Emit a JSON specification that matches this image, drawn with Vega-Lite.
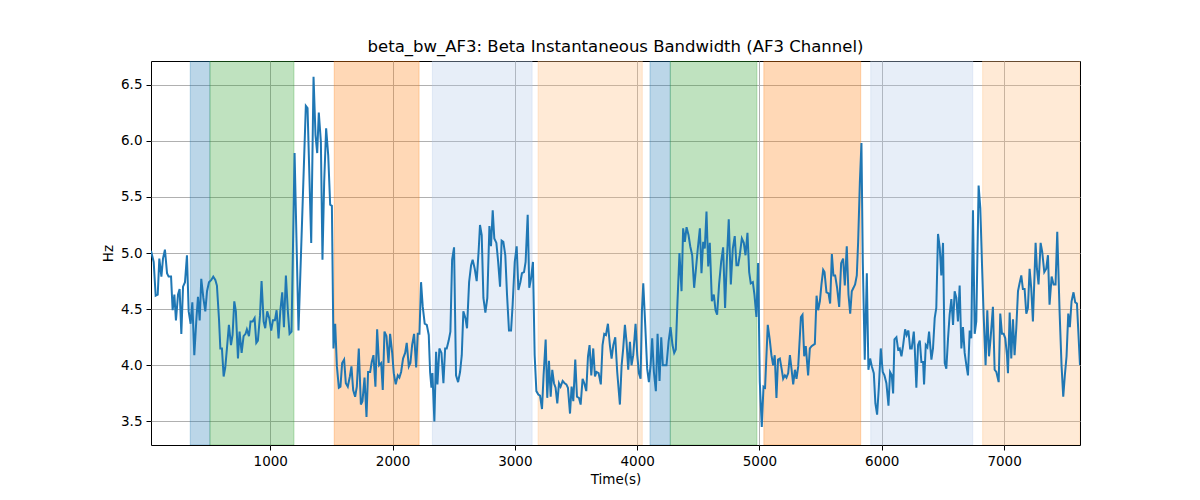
{
  "$schema": "https://vega.github.io/schema/vega-lite/v6.json",
  "autosize": {"type": "none"},
  "padding": {"left": 151, "top": 61, "right": 120, "bottom": 55},
  "width": 929,
  "height": 384,
  "title": {
    "text": "beta_bw_AF3: Beta Instantaneous Bandwidth (AF3 Channel)",
    "font": "DejaVu Sans",
    "fontSize": 16.5,
    "fontWeight": "normal",
    "color": "black",
    "baseline": "alphabetic",
    "offset": -7,
    "frame": "group"
  },
  "datasets": {
    "bands": [
      {"start": 346, "end": 507, "state": "s1"},
      {"start": 507, "end": 1194, "state": "s2"},
      {"start": 1523, "end": 2217, "state": "s3"},
      {"start": 2326, "end": 3141, "state": "s4"},
      {"start": 3190, "end": 4042, "state": "s5"},
      {"start": 4105, "end": 4271, "state": "s1"},
      {"start": 4271, "end": 4979, "state": "s2"},
      {"start": 5036, "end": 5828, "state": "s3"},
      {"start": 5910, "end": 6744, "state": "s4"},
      {"start": 6825, "end": 7621, "state": "s5"}
    ],
    "signal": [
      {"t": 25, "hz": 5.02}, {"t": 47, "hz": 4.92}, {"t": 63, "hz": 4.62}, {"t": 80, "hz": 4.63},
      {"t": 93, "hz": 4.95}, {"t": 110, "hz": 4.79}, {"t": 123, "hz": 4.95}, {"t": 139, "hz": 5.03},
      {"t": 156, "hz": 4.82}, {"t": 169, "hz": 4.79}, {"t": 189, "hz": 4.79}, {"t": 202, "hz": 4.49},
      {"t": 216, "hz": 4.63}, {"t": 229, "hz": 4.40}, {"t": 246, "hz": 4.63}, {"t": 259, "hz": 4.68},
      {"t": 273, "hz": 4.28}, {"t": 287, "hz": 4.70}, {"t": 303, "hz": 4.74}, {"t": 319, "hz": 4.98},
      {"t": 333, "hz": 4.48}, {"t": 349, "hz": 4.37}, {"t": 363, "hz": 4.56}, {"t": 379, "hz": 4.09},
      {"t": 395, "hz": 4.39}, {"t": 409, "hz": 4.61}, {"t": 423, "hz": 4.40}, {"t": 436, "hz": 4.77},
      {"t": 453, "hz": 4.60}, {"t": 469, "hz": 4.48}, {"t": 483, "hz": 4.66}, {"t": 499, "hz": 4.74},
      {"t": 518, "hz": 4.76}, {"t": 534, "hz": 4.79}, {"t": 551, "hz": 4.76}, {"t": 564, "hz": 4.71},
      {"t": 581, "hz": 4.41}, {"t": 592, "hz": 4.15}, {"t": 605, "hz": 4.15}, {"t": 619, "hz": 3.90},
      {"t": 632, "hz": 3.98}, {"t": 646, "hz": 4.15}, {"t": 662, "hz": 4.36}, {"t": 679, "hz": 4.18},
      {"t": 692, "hz": 4.27}, {"t": 706, "hz": 4.57}, {"t": 719, "hz": 4.48}, {"t": 736, "hz": 4.06},
      {"t": 749, "hz": 4.30}, {"t": 766, "hz": 4.11}, {"t": 782, "hz": 4.26}, {"t": 798, "hz": 4.28},
      {"t": 809, "hz": 4.32}, {"t": 826, "hz": 4.26}, {"t": 839, "hz": 4.39}, {"t": 856, "hz": 4.39},
      {"t": 872, "hz": 4.42}, {"t": 886, "hz": 4.20}, {"t": 899, "hz": 4.22}, {"t": 916, "hz": 4.44},
      {"t": 929, "hz": 4.75}, {"t": 946, "hz": 4.39}, {"t": 959, "hz": 4.33}, {"t": 975, "hz": 4.48},
      {"t": 992, "hz": 4.42}, {"t": 1008, "hz": 4.31}, {"t": 1022, "hz": 4.40}, {"t": 1038, "hz": 4.40},
      {"t": 1052, "hz": 4.49}, {"t": 1068, "hz": 4.24}, {"t": 1082, "hz": 4.48}, {"t": 1098, "hz": 4.65},
      {"t": 1112, "hz": 4.34}, {"t": 1128, "hz": 4.80}, {"t": 1144, "hz": 4.48}, {"t": 1158, "hz": 4.28},
      {"t": 1174, "hz": 4.30}, {"t": 1199, "hz": 5.89}, {"t": 1231, "hz": 4.31},
      {"t": 1291, "hz": 6.31}, {"t": 1305, "hz": 6.29}, {"t": 1335, "hz": 5.09}, {"t": 1354, "hz": 6.57},
      {"t": 1370, "hz": 6.05}, {"t": 1384, "hz": 5.89}, {"t": 1397, "hz": 6.25}, {"t": 1414, "hz": 5.99},
      {"t": 1427, "hz": 4.94}, {"t": 1441, "hz": 5.63}, {"t": 1457, "hz": 6.11}, {"t": 1474, "hz": 5.87},
      {"t": 1490, "hz": 5.43}, {"t": 1504, "hz": 5.42}, {"t": 1517, "hz": 4.15}, {"t": 1531, "hz": 4.37},
      {"t": 1545, "hz": 3.99}, {"t": 1561, "hz": 3.80}, {"t": 1574, "hz": 3.81}, {"t": 1588, "hz": 4.02},
      {"t": 1604, "hz": 4.05}, {"t": 1618, "hz": 3.84}, {"t": 1634, "hz": 3.81}, {"t": 1651, "hz": 3.90},
      {"t": 1664, "hz": 3.99}, {"t": 1678, "hz": 3.78}, {"t": 1694, "hz": 3.72}, {"t": 1708, "hz": 3.81},
      {"t": 1724, "hz": 4.15}, {"t": 1741, "hz": 3.65}, {"t": 1754, "hz": 3.68}, {"t": 1771, "hz": 3.89},
      {"t": 1787, "hz": 3.54}, {"t": 1800, "hz": 3.94}, {"t": 1817, "hz": 3.94}, {"t": 1830, "hz": 4.03},
      {"t": 1844, "hz": 4.09}, {"t": 1860, "hz": 3.81}, {"t": 1874, "hz": 4.32}, {"t": 1890, "hz": 4.00},
      {"t": 1907, "hz": 4.02}, {"t": 1920, "hz": 3.78}, {"t": 1934, "hz": 4.30}, {"t": 1950, "hz": 4.26},
      {"t": 1967, "hz": 4.02}, {"t": 1980, "hz": 4.28}, {"t": 1997, "hz": 4.11}, {"t": 2010, "hz": 3.93},
      {"t": 2026, "hz": 3.83}, {"t": 2043, "hz": 3.91}, {"t": 2056, "hz": 3.89}, {"t": 2070, "hz": 3.94},
      {"t": 2086, "hz": 4.06}, {"t": 2103, "hz": 4.11}, {"t": 2116, "hz": 4.20}, {"t": 2133, "hz": 3.99},
      {"t": 2146, "hz": 4.02}, {"t": 2160, "hz": 4.18}, {"t": 2176, "hz": 4.28}, {"t": 2193, "hz": 3.98},
      {"t": 2206, "hz": 4.28}, {"t": 2220, "hz": 4.28}, {"t": 2233, "hz": 4.74}, {"t": 2247, "hz": 4.52},
      {"t": 2263, "hz": 4.37}, {"t": 2280, "hz": 4.36}, {"t": 2296, "hz": 4.27}, {"t": 2307, "hz": 3.94},
      {"t": 2318, "hz": 3.80}, {"t": 2326, "hz": 3.93}, {"t": 2342, "hz": 3.50}, {"t": 2356, "hz": 4.12},
      {"t": 2367, "hz": 3.83}, {"t": 2383, "hz": 4.15}, {"t": 2400, "hz": 4.11}, {"t": 2416, "hz": 3.84},
      {"t": 2430, "hz": 4.15}, {"t": 2443, "hz": 4.15}, {"t": 2459, "hz": 4.22}, {"t": 2473, "hz": 4.30},
      {"t": 2487, "hz": 4.94}, {"t": 2503, "hz": 5.05}, {"t": 2519, "hz": 3.91}, {"t": 2536, "hz": 3.85},
      {"t": 2552, "hz": 3.94}, {"t": 2566, "hz": 4.09}, {"t": 2579, "hz": 4.48}, {"t": 2596, "hz": 4.42},
      {"t": 2609, "hz": 4.33}, {"t": 2626, "hz": 4.74}, {"t": 2642, "hz": 4.89}, {"t": 2655, "hz": 4.94},
      {"t": 2672, "hz": 4.86}, {"t": 2688, "hz": 4.75}, {"t": 2704, "hz": 5.02}, {"t": 2715, "hz": 5.25},
      {"t": 2729, "hz": 5.16}, {"t": 2743, "hz": 4.60}, {"t": 2759, "hz": 4.47}, {"t": 2775, "hz": 4.60},
      {"t": 2792, "hz": 5.24}, {"t": 2805, "hz": 5.06}, {"t": 2819, "hz": 5.38}, {"t": 2832, "hz": 5.13},
      {"t": 2849, "hz": 5.09}, {"t": 2862, "hz": 4.94}, {"t": 2879, "hz": 4.70}, {"t": 2892, "hz": 5.11},
      {"t": 2906, "hz": 5.10}, {"t": 2922, "hz": 4.98}, {"t": 2936, "hz": 4.63}, {"t": 2952, "hz": 4.31},
      {"t": 2969, "hz": 4.31}, {"t": 2982, "hz": 4.54}, {"t": 2999, "hz": 4.92}, {"t": 3015, "hz": 5.06},
      {"t": 3029, "hz": 4.67}, {"t": 3045, "hz": 4.74}, {"t": 3058, "hz": 4.82}, {"t": 3075, "hz": 4.83},
      {"t": 3088, "hz": 4.92}, {"t": 3105, "hz": 5.34}, {"t": 3118, "hz": 4.69}, {"t": 3132, "hz": 4.77},
      {"t": 3148, "hz": 4.92}, {"t": 3162, "hz": 4.09}, {"t": 3176, "hz": 3.77}, {"t": 3192, "hz": 3.74},
      {"t": 3206, "hz": 3.73}, {"t": 3222, "hz": 3.61}, {"t": 3235, "hz": 3.91}, {"t": 3252, "hz": 4.23},
      {"t": 3265, "hz": 3.71}, {"t": 3279, "hz": 4.04}, {"t": 3293, "hz": 3.72}, {"t": 3306, "hz": 3.96},
      {"t": 3320, "hz": 3.84}, {"t": 3333, "hz": 3.80}, {"t": 3347, "hz": 3.66}, {"t": 3361, "hz": 3.84},
      {"t": 3374, "hz": 3.81}, {"t": 3391, "hz": 3.86}, {"t": 3407, "hz": 3.84}, {"t": 3421, "hz": 3.83},
      {"t": 3434, "hz": 3.80}, {"t": 3451, "hz": 3.57}, {"t": 3464, "hz": 3.81}, {"t": 3478, "hz": 3.68},
      {"t": 3494, "hz": 4.05}, {"t": 3508, "hz": 3.72}, {"t": 3524, "hz": 3.71}, {"t": 3538, "hz": 3.65},
      {"t": 3554, "hz": 3.88}, {"t": 3568, "hz": 3.84}, {"t": 3584, "hz": 3.77}, {"t": 3598, "hz": 4.08},
      {"t": 3611, "hz": 4.18}, {"t": 3625, "hz": 3.91}, {"t": 3641, "hz": 4.15}, {"t": 3655, "hz": 3.90},
      {"t": 3668, "hz": 3.94}, {"t": 3685, "hz": 3.93}, {"t": 3703, "hz": 3.83}, {"t": 3717, "hz": 4.18},
      {"t": 3731, "hz": 4.28}, {"t": 3745, "hz": 4.27}, {"t": 3761, "hz": 4.37}, {"t": 3777, "hz": 4.18},
      {"t": 3791, "hz": 4.06}, {"t": 3805, "hz": 4.18}, {"t": 3821, "hz": 4.25}, {"t": 3837, "hz": 3.94},
      {"t": 3859, "hz": 3.65}, {"t": 3873, "hz": 4.00}, {"t": 3886, "hz": 4.15}, {"t": 3900, "hz": 4.36},
      {"t": 3913, "hz": 4.21}, {"t": 3927, "hz": 3.96}, {"t": 3941, "hz": 4.21}, {"t": 3954, "hz": 4.00},
      {"t": 3968, "hz": 4.09}, {"t": 3987, "hz": 4.37}, {"t": 4001, "hz": 4.09}, {"t": 4014, "hz": 3.93},
      {"t": 4028, "hz": 3.88}, {"t": 4039, "hz": 4.48}, {"t": 4050, "hz": 4.73}, {"t": 4066, "hz": 4.36},
      {"t": 4082, "hz": 3.97}, {"t": 4096, "hz": 3.85}, {"t": 4110, "hz": 4.00}, {"t": 4123, "hz": 4.24},
      {"t": 4137, "hz": 3.94}, {"t": 4153, "hz": 3.77}, {"t": 4167, "hz": 4.28}, {"t": 4183, "hz": 3.86},
      {"t": 4197, "hz": 4.25}, {"t": 4210, "hz": 4.00}, {"t": 4227, "hz": 4.00}, {"t": 4240, "hz": 4.00},
      {"t": 4257, "hz": 4.21}, {"t": 4273, "hz": 4.34}, {"t": 4289, "hz": 4.18}, {"t": 4303, "hz": 4.11},
      {"t": 4316, "hz": 4.14}, {"t": 4330, "hz": 4.57}, {"t": 4346, "hz": 5.00}, {"t": 4363, "hz": 4.66},
      {"t": 4376, "hz": 5.22}, {"t": 4390, "hz": 5.10}, {"t": 4404, "hz": 5.23}, {"t": 4420, "hz": 5.16},
      {"t": 4434, "hz": 5.06}, {"t": 4450, "hz": 4.98}, {"t": 4466, "hz": 4.69}, {"t": 4480, "hz": 4.85},
      {"t": 4496, "hz": 5.04}, {"t": 4513, "hz": 5.22}, {"t": 4526, "hz": 4.82}, {"t": 4540, "hz": 5.10},
      {"t": 4553, "hz": 5.04}, {"t": 4567, "hz": 5.37}, {"t": 4581, "hz": 4.88}, {"t": 4594, "hz": 5.09},
      {"t": 4611, "hz": 4.57}, {"t": 4627, "hz": 4.63}, {"t": 4641, "hz": 4.49}, {"t": 4654, "hz": 4.45},
      {"t": 4670, "hz": 4.72}, {"t": 4687, "hz": 4.92}, {"t": 4703, "hz": 5.05}, {"t": 4719, "hz": 4.51},
      {"t": 4733, "hz": 4.92}, {"t": 4749, "hz": 5.30}, {"t": 4766, "hz": 4.72}, {"t": 4782, "hz": 5.04},
      {"t": 4798, "hz": 5.15}, {"t": 4812, "hz": 4.89}, {"t": 4826, "hz": 4.89}, {"t": 4839, "hz": 4.98},
      {"t": 4856, "hz": 5.13}, {"t": 4872, "hz": 5.09}, {"t": 4886, "hz": 4.98}, {"t": 4902, "hz": 5.18},
      {"t": 4916, "hz": 4.83}, {"t": 4929, "hz": 4.73}, {"t": 4946, "hz": 4.74}, {"t": 4959, "hz": 4.63},
      {"t": 4975, "hz": 4.43}, {"t": 4989, "hz": 4.91}, {"t": 5003, "hz": 3.85}, {"t": 5019, "hz": 3.45},
      {"t": 5033, "hz": 3.81}, {"t": 5046, "hz": 3.80}, {"t": 5068, "hz": 4.36}, {"t": 5084, "hz": 4.23},
      {"t": 5098, "hz": 4.09}, {"t": 5112, "hz": 4.00}, {"t": 5125, "hz": 4.09}, {"t": 5139, "hz": 3.71},
      {"t": 5152, "hz": 4.05}, {"t": 5167, "hz": 4.06}, {"t": 5181, "hz": 3.97}, {"t": 5194, "hz": 3.88},
      {"t": 5208, "hz": 3.91}, {"t": 5221, "hz": 3.89}, {"t": 5235, "hz": 3.93}, {"t": 5249, "hz": 4.09},
      {"t": 5262, "hz": 3.97}, {"t": 5276, "hz": 3.83}, {"t": 5290, "hz": 3.96}, {"t": 5303, "hz": 3.88},
      {"t": 5317, "hz": 3.99}, {"t": 5339, "hz": 4.43}, {"t": 5352, "hz": 4.45}, {"t": 5366, "hz": 4.08},
      {"t": 5379, "hz": 4.17}, {"t": 5398, "hz": 3.91}, {"t": 5412, "hz": 4.15}, {"t": 5426, "hz": 4.17},
      {"t": 5453, "hz": 4.19}, {"t": 5467, "hz": 4.62}, {"t": 5480, "hz": 4.49}, {"t": 5494, "hz": 4.57},
      {"t": 5507, "hz": 4.72}, {"t": 5521, "hz": 4.85}, {"t": 5532, "hz": 4.83}, {"t": 5548, "hz": 4.65},
      {"t": 5565, "hz": 4.64}, {"t": 5578, "hz": 4.55}, {"t": 5592, "hz": 4.99}, {"t": 5605, "hz": 4.80},
      {"t": 5619, "hz": 4.80}, {"t": 5635, "hz": 4.69}, {"t": 5652, "hz": 4.52}, {"t": 5668, "hz": 4.91},
      {"t": 5684, "hz": 4.95}, {"t": 5698, "hz": 4.71}, {"t": 5714, "hz": 5.06}, {"t": 5728, "hz": 4.63},
      {"t": 5742, "hz": 4.46}, {"t": 5755, "hz": 4.66}, {"t": 5769, "hz": 4.69}, {"t": 5782, "hz": 4.72},
      {"t": 5796, "hz": 4.80}, {"t": 5807, "hz": 5.10}, {"t": 5821, "hz": 5.63}, {"t": 5834, "hz": 5.98},
      {"t": 5845, "hz": 4.92}, {"t": 5861, "hz": 4.05}, {"t": 5878, "hz": 4.82}, {"t": 5891, "hz": 3.96},
      {"t": 5905, "hz": 4.06}, {"t": 5919, "hz": 3.99}, {"t": 5935, "hz": 3.93}, {"t": 5948, "hz": 3.66},
      {"t": 5962, "hz": 3.56}, {"t": 5976, "hz": 3.80}, {"t": 5992, "hz": 4.15}, {"t": 6008, "hz": 3.94},
      {"t": 6022, "hz": 3.91}, {"t": 6038, "hz": 3.84}, {"t": 6055, "hz": 3.64}, {"t": 6068, "hz": 3.94},
      {"t": 6082, "hz": 3.91}, {"t": 6093, "hz": 3.75}, {"t": 6104, "hz": 4.23}, {"t": 6120, "hz": 4.25},
      {"t": 6134, "hz": 4.14}, {"t": 6147, "hz": 4.15}, {"t": 6161, "hz": 4.08}, {"t": 6175, "hz": 4.18},
      {"t": 6191, "hz": 4.32}, {"t": 6204, "hz": 4.27}, {"t": 6218, "hz": 4.31}, {"t": 6232, "hz": 4.15},
      {"t": 6245, "hz": 4.15}, {"t": 6262, "hz": 4.30}, {"t": 6270, "hz": 4.15}, {"t": 6283, "hz": 3.80},
      {"t": 6297, "hz": 4.18}, {"t": 6311, "hz": 4.22}, {"t": 6324, "hz": 4.03}, {"t": 6338, "hz": 4.03},
      {"t": 6346, "hz": 3.83}, {"t": 6360, "hz": 4.18}, {"t": 6373, "hz": 4.16}, {"t": 6387, "hz": 4.30},
      {"t": 6406, "hz": 4.05}, {"t": 6419, "hz": 4.15}, {"t": 6433, "hz": 4.42}, {"t": 6446, "hz": 4.51},
      {"t": 6460, "hz": 5.17}, {"t": 6474, "hz": 5.05}, {"t": 6487, "hz": 4.80}, {"t": 6501, "hz": 5.09},
      {"t": 6515, "hz": 4.02}, {"t": 6528, "hz": 3.97}, {"t": 6542, "hz": 4.24}, {"t": 6555, "hz": 4.45},
      {"t": 6569, "hz": 4.59}, {"t": 6583, "hz": 4.36}, {"t": 6596, "hz": 4.66}, {"t": 6610, "hz": 4.60},
      {"t": 6623, "hz": 4.39}, {"t": 6637, "hz": 4.71}, {"t": 6651, "hz": 4.15}, {"t": 6664, "hz": 4.34},
      {"t": 6678, "hz": 4.11}, {"t": 6692, "hz": 4.00}, {"t": 6705, "hz": 3.91}, {"t": 6719, "hz": 4.31},
      {"t": 6732, "hz": 4.24}, {"t": 6746, "hz": 5.38}, {"t": 6760, "hz": 4.28}, {"t": 6773, "hz": 4.39},
      {"t": 6792, "hz": 5.60}, {"t": 6806, "hz": 5.40}, {"t": 6820, "hz": 4.89}, {"t": 6833, "hz": 4.45},
      {"t": 6849, "hz": 4.00}, {"t": 6863, "hz": 4.49}, {"t": 6877, "hz": 4.08}, {"t": 6890, "hz": 4.24},
      {"t": 6909, "hz": 4.52}, {"t": 6923, "hz": 3.96}, {"t": 6937, "hz": 3.94}, {"t": 6956, "hz": 3.85},
      {"t": 6969, "hz": 4.46}, {"t": 6983, "hz": 4.28}, {"t": 6997, "hz": 4.28}, {"t": 7010, "hz": 4.24},
      {"t": 7024, "hz": 4.09}, {"t": 7032, "hz": 3.93}, {"t": 7046, "hz": 4.47}, {"t": 7059, "hz": 4.06},
      {"t": 7073, "hz": 4.41}, {"t": 7086, "hz": 4.09}, {"t": 7100, "hz": 4.33}, {"t": 7114, "hz": 4.66},
      {"t": 7127, "hz": 4.73}, {"t": 7141, "hz": 4.80}, {"t": 7154, "hz": 4.68}, {"t": 7168, "hz": 4.68},
      {"t": 7182, "hz": 4.46}, {"t": 7195, "hz": 4.51}, {"t": 7209, "hz": 4.86}, {"t": 7222, "hz": 4.69},
      {"t": 7236, "hz": 4.39}, {"t": 7250, "hz": 4.83}, {"t": 7258, "hz": 5.09}, {"t": 7269, "hz": 4.86},
      {"t": 7282, "hz": 4.72}, {"t": 7299, "hz": 5.09}, {"t": 7312, "hz": 5.01}, {"t": 7329, "hz": 4.83},
      {"t": 7345, "hz": 4.86}, {"t": 7359, "hz": 4.98}, {"t": 7372, "hz": 4.54}, {"t": 7389, "hz": 4.79},
      {"t": 7405, "hz": 4.72}, {"t": 7421, "hz": 4.72}, {"t": 7435, "hz": 5.19}, {"t": 7454, "hz": 4.48},
      {"t": 7470, "hz": 4.00}, {"t": 7484, "hz": 3.72}, {"t": 7497, "hz": 3.91}, {"t": 7511, "hz": 4.08},
      {"t": 7525, "hz": 4.46}, {"t": 7538, "hz": 4.34}, {"t": 7552, "hz": 4.57}, {"t": 7568, "hz": 4.65},
      {"t": 7582, "hz": 4.56}, {"t": 7596, "hz": 4.55}, {"t": 7621, "hz": 4.00}
    ]
  },
  "layer": [
    {
      "data": {"name": "bands"},
      "mark": {"type": "rect", "fillOpacity": 0.3, "strokeOpacity": 0.3, "strokeWidth": 1, "clip": true},
      "encoding": {
        "x": {"field": "start", "type": "quantitative", "scale": {"domain": [25, 7621], "nice": false, "zero": false}},
        "x2": {"field": "end"},
        "fill": {
          "field": "state",
          "type": "nominal",
          "legend": null,
          "scale": {"domain": ["s1", "s2", "s3", "s4", "s5"], "range": ["#1f77b4", "#2ca02c", "#ff7f0e", "#aec7e8", "#ffbb78"]}
        },
        "stroke": {
          "field": "state",
          "type": "nominal",
          "legend": null,
          "scale": {"domain": ["s1", "s2", "s3", "s4", "s5"], "range": ["#1f77b4", "#2ca02c", "#ff7f0e", "#aec7e8", "#ffbb78"]}
        }
      }
    },
    {
      "data": {"name": "signal"},
      "mark": {"type": "line", "color": "#1f77b4", "strokeWidth": 2, "clip": true},
      "encoding": {
        "x": {
          "field": "t",
          "type": "quantitative",
          "title": "Time(s)",
          "scale": {"domain": [25, 7621], "nice": false, "zero": false},
          "axis": {"values": [1000, 2000, 3000, 4000, 5000, 6000, 7000], "format": "d"}
        },
        "y": {
          "field": "hz",
          "type": "quantitative",
          "title": "Hz",
          "scale": {"domain": [3.29, 6.71], "nice": false, "zero": false},
          "axis": {"values": [3.5, 4.0, 4.5, 5.0, 5.5, 6.0, 6.5], "format": ".1f"}
        }
      }
    }
  ],
  "config": {
    "view": {"stroke": "black", "strokeWidth": 1},
    "axis": {
      "labelFont": "DejaVu Sans",
      "labelFontSize": 13.5,
      "labelColor": "black",
      "titleFont": "DejaVu Sans",
      "titleFontSize": 13.5,
      "titleFontWeight": "normal",
      "titleColor": "black",
      "tickColor": "black",
      "tickSize": 5,
      "labelPadding": 4,
      "titlePadding": 5,
      "domain": false,
      "grid": true,
      "gridColor": "#b0b0b0",
      "gridWidth": 1
    }
  }
}
